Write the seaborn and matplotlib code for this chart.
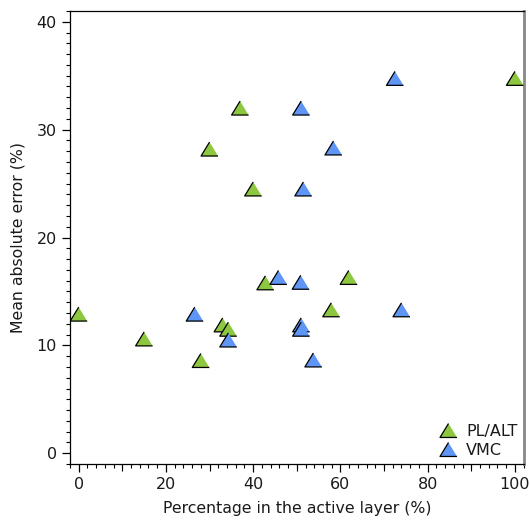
import matplotlib
matplotlib.use("Agg")
import matplotlib.pyplot as plt
import seaborn as sns
import pandas as pd
from matplotlib.ticker import MultipleLocator

# Data
pl_x = [0, 15, 28, 30, 33, 34.3, 37, 40, 42.8, 57.9, 61.9, 100]
pl_y = [12.9, 10.6, 8.6, 28.2, 11.9, 11.5, 32.0, 24.5, 15.8, 13.3, 16.3, 34.75]
vmc_x = [26.6, 34.3, 45.8, 50.9, 51.0, 51.0, 51.0, 51.5, 53.8, 58.4, 72.5, 74.0]
vmc_y = [12.9, 10.5, 16.3, 15.85, 11.9, 11.5, 32.0, 24.5, 8.65, 28.3, 34.75, 13.3]
series = ["PL/ALT", "VMC"]
colors = {"PL/ALT": "#8DC63F", "VMC": "#5F96F5"}

df = pd.DataFrame({
    "x": pl_x + vmc_x,
    "y": pl_y + vmc_y,
    "group": [series[0]] * len(pl_x) + [series[1]] * len(vmc_x),
})

sns.set_style("white")
plt.rcParams['font.family'] = ['DejaVu Sans']
plt.rcParams['text.color'] = '#1a1a1a'
plt.rcParams['axes.labelcolor'] = '#1a1a1a'
plt.rcParams['xtick.color'] = 'black'
plt.rcParams['ytick.color'] = 'black'
plt.rcParams['xtick.labelcolor'] = '#1a1a1a'
plt.rcParams['ytick.labelcolor'] = '#1a1a1a'

fig = plt.figure(figsize=(5.30, 5.22), dpi=100)
ax = fig.add_axes([0.132, 0.111, 0.856, 0.868])

tri = [(0, 0.82), (-1, -0.82), (1, -0.82)]
sns.scatterplot(data=df, x="x", y="y", hue="group", palette=colors,
                marker=tri, s=150, edgecolor="black", linewidth=0.9,
                ax=ax, zorder=3)

ax.set_xlim(-2, 102)
ax.set_ylim(-1, 41)
ax.xaxis.set_major_locator(MultipleLocator(20))
ax.xaxis.set_minor_locator(MultipleLocator(2))
ax.yaxis.set_major_locator(MultipleLocator(10))
ax.yaxis.set_minor_locator(MultipleLocator(1))
ax.tick_params(which="major", direction="out", length=6, width=0.9,
               labelsize=11.5, bottom=True, left=True)
ax.tick_params(which="minor", direction="out", length=3, width=0.8,
               bottom=True, left=True)

sec = ax.secondary_xaxis('bottom')
sec.set_xticks([10, 30, 50, 70, 90])
sec.tick_params(direction="out", length=5, width=0.8, labelbottom=False)
sec.spines['bottom'].set_visible(False)

for name in ["left", "bottom", "top"]:
    ax.spines[name].set_color("black")
    ax.spines[name].set_linewidth(0.9)
ax.spines["right"].set_color("#888888")
ax.spines["right"].set_linewidth(2.0)

ax.set_xlabel("Percentage in the active layer (%)", fontsize=11.3, labelpad=6)
ax.set_ylabel("Mean absolute error (%)", fontsize=11.3, labelpad=8)

leg = ax.legend(loc="lower right", frameon=False, fontsize=11.5,
                handletextpad=0.1, borderaxespad=0.2, labelspacing=0.25,
                borderpad=0.2, markerscale=1.0)

fig.savefig("out.png", dpi=100)
